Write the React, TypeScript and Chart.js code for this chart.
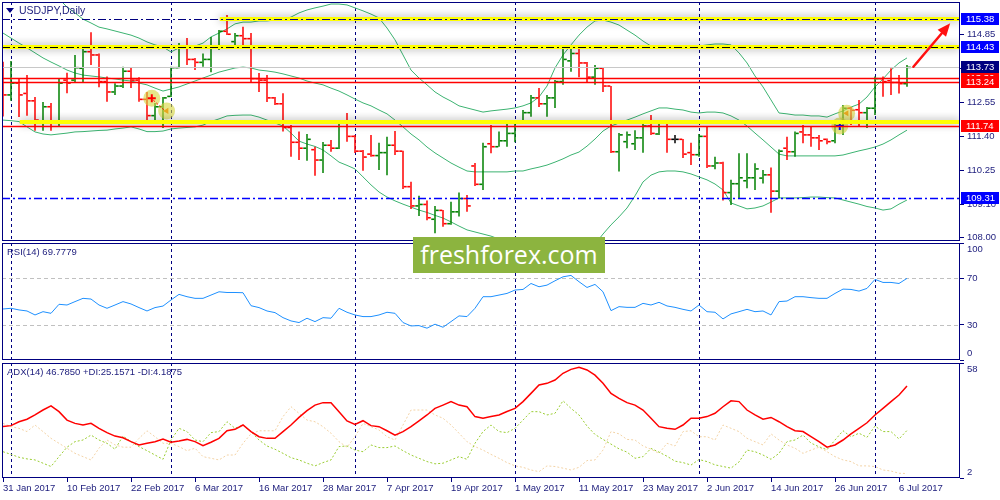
import React, { useEffect, useRef } from 'react';
import { Chart, registerables } from 'chart.js';

Chart.register(...registerables);

const FONT = "'Liberation Sans', Arial, Helvetica, sans-serif";
const NAVY = '#000080';
const TXT = '#1c1c7c';
const UP = '#008000';
const DOWN = '#ff0000';
const DOJI = '#000000';
const BB = '#3cb371';

// ---------- price bars (31 Jan 2017 .. 7 Jul 2017, one per weekday) ----------
const opens = [113.80,112.80,113.20,112.85,112.60,111.90,112.40,111.90,113.30,113.30,113.70,114.26,114.15,113.25,112.90,113.10,113.60,113.30,112.65,112.10,112.40,112.75,113.72,114.40,114.00,113.90,114.00,114.40,114.95,114.60,114.80,114.70,113.35,113.30,112.70,112.50,111.70,111.20,111.00,110.95,110.60,111.10,111.00,111.85,111.40,110.90,110.80,110.75,110.85,111.10,110.90,109.70,109.05,109.10,108.60,108.90,108.45,108.85,109.30,110.40,109.78,111.15,111.05,111.25,111.50,111.88,112.20,112.70,112.50,112.70,113.25,113.95,114.20,113.88,113.40,113.70,113.10,110.88,111.22,111.15,111.35,111.75,111.48,111.85,111.30,111.30,110.85,110.78,111.40,110.40,110.50,109.50,109.80,109.90,110.00,109.99,110.10,109.55,111.00,110.88,111.55,111.45,111.35,111.30,111.25,111.85,112.35,112.30,112.20,112.35,113.35,113.28,113.22,113.18];
const highs = [113.92,113.95,113.34,113.47,112.73,112.56,112.53,113.34,113.55,114.15,114.43,114.92,114.20,113.42,113.19,113.75,113.71,113.40,112.90,112.53,112.73,113.75,114.55,114.72,114.05,114.20,114.76,114.99,115.50,114.89,115.10,114.89,113.54,113.47,112.73,112.86,111.78,111.56,111.48,111.05,111.21,111.28,111.92,112.19,111.45,110.94,111.45,111.18,111.39,111.58,110.91,109.87,109.39,109.23,109.05,108.91,109.19,109.50,109.42,110.50,111.18,111.78,111.56,111.85,111.90,112.29,112.80,113.03,112.80,113.30,114.39,114.39,114.35,113.91,113.81,113.74,113.10,111.51,111.56,111.61,111.85,112.12,111.95,111.85,111.45,111.31,111.18,111.48,111.75,110.71,110.54,109.93,110.83,110.83,110.49,110.26,110.35,110.96,111.39,111.56,111.78,111.75,111.45,111.33,111.95,112.46,112.39,112.63,112.39,113.42,113.42,113.70,113.47,113.81];
const lows = [112.07,112.60,112.05,112.10,111.59,111.59,111.59,111.73,112.86,113.24,113.24,113.81,113.06,112.57,112.80,113.03,113.03,112.57,111.89,111.89,111.68,112.73,113.70,113.81,113.64,113.75,113.57,114.32,114.82,114.42,114.45,113.20,112.90,112.56,112.46,111.56,110.71,110.60,110.58,110.07,110.16,110.88,110.97,111.22,110.84,110.24,110.71,110.26,110.09,110.77,109.62,108.95,108.71,108.57,108.13,108.35,108.41,108.69,108.85,109.72,109.59,110.83,111.05,111.05,111.20,111.85,112.06,112.39,112.06,112.36,113.14,113.58,113.40,113.20,113.14,112.90,110.84,110.21,111.00,110.94,110.85,111.45,111.45,110.85,111.17,110.67,110.43,110.71,110.33,110.29,109.23,109.08,109.31,109.65,109.59,109.81,108.82,109.31,110.60,110.71,111.17,111.05,110.94,111.13,111.17,111.45,111.78,111.73,111.68,112.12,112.74,112.80,112.85,113.08];
const closes = [112.80,113.20,112.80,112.60,111.95,112.40,111.90,113.20,113.20,113.72,114.26,114.15,113.25,112.90,113.10,113.60,113.30,112.65,112.10,112.40,112.70,113.72,114.40,114.00,113.90,114.00,114.40,114.95,114.85,114.80,114.70,113.35,113.30,112.70,112.50,111.70,111.20,111.00,111.30,110.60,111.10,111.00,111.85,111.40,110.90,110.70,110.75,110.85,111.10,110.90,109.70,109.05,109.10,108.65,108.90,108.45,108.85,109.30,109.05,109.78,111.05,111.05,111.25,111.50,111.85,112.20,112.70,112.50,112.70,113.25,114.00,114.20,113.88,113.40,113.70,113.10,110.88,111.45,111.45,111.35,111.75,111.50,111.85,111.30,111.30,110.80,110.78,111.40,110.40,110.50,109.50,109.80,110.00,110.00,110.30,110.10,109.55,110.90,110.88,111.50,111.45,111.35,111.25,111.22,111.85,112.35,112.28,112.20,112.35,113.35,113.25,113.22,113.18,113.73];

// ---------- Bollinger bands ----------
const bbUpper = [117.83,117.59,117.36,117.12,116.89,116.65,116.34,116.04,115.77,115.57,115.36,115.23,115.09,115.03,114.96,114.89,114.82,114.72,114.59,114.49,114.42,114.25,114.39,114.42,114.45,114.55,114.76,114.89,115.03,115.20,115.26,115.26,115.30,115.30,115.33,115.33,115.43,115.57,115.67,115.74,115.80,115.87,115.87,115.84,115.74,115.64,115.53,115.40,115.06,114.66,114.15,113.64,113.37,113.14,112.90,112.73,112.59,112.43,112.36,112.29,112.22,112.26,112.29,112.32,112.36,112.43,112.53,112.73,113.10,113.71,114.15,114.49,114.82,115.09,115.30,115.33,115.26,115.16,114.99,114.82,114.62,114.45,114.39,114.39,114.39,114.39,114.42,114.45,114.49,114.52,114.52,114.49,114.22,113.88,113.44,113.07,112.63,112.19,112.16,112.12,112.12,112.09,112.09,112.05,112.16,112.26,112.39,112.49,112.73,113.07,113.34,113.64,113.88,114.05];
const bbMiddle = [114.89,114.72,114.55,114.39,114.22,114.05,113.91,113.78,113.64,113.54,113.47,113.44,113.41,113.37,113.34,113.30,113.27,113.20,113.14,113.03,112.93,113.00,113.07,113.17,113.27,113.37,113.47,113.57,113.64,113.71,113.74,113.71,113.64,113.61,113.57,113.51,113.44,113.37,113.27,113.20,113.14,113.03,112.93,112.80,112.66,112.53,112.43,112.29,112.16,111.95,111.72,111.48,111.28,111.04,110.84,110.67,110.50,110.36,110.23,110.20,110.20,110.20,110.20,110.20,110.23,110.23,110.30,110.36,110.43,110.53,110.64,110.77,110.87,111.07,111.31,111.58,111.75,111.85,111.95,112.05,112.16,112.26,112.36,112.36,112.32,112.29,112.22,112.19,112.22,112.22,112.19,112.09,111.95,111.75,111.51,111.28,111.04,110.80,110.74,110.74,110.74,110.74,110.74,110.74,110.74,110.77,110.84,110.91,110.97,111.04,111.14,111.28,111.45,111.61];
const bbLower = [111.95,111.93,111.90,111.72,111.55,111.48,111.45,111.48,111.51,111.55,111.56,111.58,111.60,111.61,111.65,111.68,111.72,111.65,111.56,111.56,111.58,111.65,111.68,111.70,111.72,111.78,111.90,111.99,112.09,112.11,112.12,112.12,112.05,111.95,111.85,111.75,111.51,111.24,111.14,111.06,110.94,110.74,110.53,110.42,110.30,110.03,109.76,109.52,109.35,109.22,109.11,109.01,108.91,108.83,108.73,108.64,108.51,108.37,108.24,108.17,108.10,108.03,107.93,107.83,107.76,107.70,107.56,107.43,107.32,107.22,107.22,107.32,107.46,107.56,107.76,108.10,108.41,108.68,108.98,109.39,109.86,110.09,110.20,110.23,110.23,110.20,110.13,110.03,109.93,109.79,109.59,109.15,109.05,108.95,108.98,109.05,109.18,109.32,109.32,109.32,109.33,109.35,109.35,109.33,109.32,109.25,109.18,109.11,109.03,108.98,108.91,108.95,109.11,109.25];

// ---------- RSI(14) ----------
const rsi = [43.6,44.2,42.8,41.9,38.5,41.3,39.9,47.6,47.0,49.9,52.7,52.1,47.0,44.2,47.0,49.9,47.9,44.8,41.9,44.8,46.1,51.3,56.1,54.1,52.7,52.7,55.5,58.3,57.7,57.7,57.5,46.4,44.8,41.9,40.5,36.2,33.4,32.0,35.7,32.8,36.2,35.7,44.2,40.8,38.5,37.1,37.1,38.5,40.8,39.9,32.0,29.1,29.4,27.2,30.6,28.0,32.8,37.7,37.1,44.2,54.1,54.1,55.5,56.9,59.8,60.3,65.4,62.6,64.0,67.7,71.1,72.3,66.9,62.0,64.6,58.3,42.2,45.6,45.0,45.0,48.4,47.0,49.3,46.2,45.0,43.3,41.9,47.0,41.3,40.8,35.1,39.4,41.3,43.3,41.3,41.9,38.5,49.9,50.4,54.1,54.1,53.3,52.7,52.7,56.9,60.6,60.3,58.9,61.2,68.9,66.3,66.3,65.4,69.78];

// ---------- ADX(14) ----------
const adx = [27.1,27.5,29.4,30.6,32.7,35.1,37.1,34.3,30.2,28.6,27.8,28.6,26.2,24.1,22.4,21.6,19.7,18.1,18.9,19.7,21.0,19.4,20.0,20.8,19.7,17.7,19.4,21.3,25.0,25.7,27.8,24.6,22.1,21.3,21.3,24.6,27.8,31.5,34.8,37.5,38.7,38.7,34.3,29.8,28.1,29.9,27.5,27.0,25.0,22.9,24.6,27.0,29.8,32.7,35.9,37.5,39.2,37.5,36.7,31.9,31.1,31.9,32.7,34.4,35.9,39.2,43.2,47.3,48.1,49.7,53.0,54.9,55.9,54.6,52.1,48.1,43.2,40.8,38.7,37.5,35.1,31.1,27.0,26.2,25.7,27.8,31.1,31.1,31.9,33.5,36.7,39.6,39.2,35.1,32.7,30.6,31.5,29.4,27.0,25.0,24.6,22.1,19.7,17.0,18.1,20.5,23.5,26.2,28.9,32.7,35.9,39.2,42.4,46.785];
const plusDI = [14.8,13.5,12.1,11.3,10.8,9.2,7.6,12.4,17.0,19.7,20.5,22.9,20.5,18.9,16.0,22.4,19.7,17.3,15.3,13.2,11.1,20.5,26.2,24.6,20.5,19.7,24.1,24.6,29.4,26.2,27.8,24.6,20.5,17.6,16.0,14.0,11.9,10.8,9.2,7.9,9.5,10.8,17.3,17.6,15.6,14.8,18.1,16.8,16.8,17.6,15.3,13.2,11.6,10.0,8.9,9.2,10.8,12.4,11.1,18.9,24.6,27.8,24.6,24.1,26.2,30.2,34.3,34.3,32.7,33.5,39.6,35.9,32.7,27.3,23.2,20.8,18.5,16.2,14.6,11.6,12.4,16.4,14.6,12.6,10.2,9.5,8.3,11.0,10.0,8.4,7.6,6.8,9.8,15.6,14.8,13.2,11.1,14.0,19.7,20.5,22.9,19.0,17.2,15.8,20.5,25.0,22.1,23.8,21.8,27.3,24.6,24.6,21.0,25.157];
const minusDI = [28.6,27.0,26.2,24.6,27.8,24.6,21.3,18.9,16.5,14.0,12.4,10.8,16.5,20.5,18.1,17.0,17.0,21.3,25.0,22.1,18.9,18.9,17.3,15.3,16.5,12.4,11.6,10.8,13.2,13.2,18.9,23.5,25.0,25.0,25.0,31.9,36.7,33.5,30.2,29.4,27.0,23.8,19.7,17.0,22.1,28.6,27.0,25.4,22.1,20.5,27.8,35.1,35.1,35.1,32.7,31.1,27.8,23.8,19.7,17.3,15.6,13.5,11.6,9.5,7.9,7.2,5.9,5.1,7.9,7.6,6.8,5.9,7.2,10.5,10.8,15.6,24.6,23.5,20.8,20.5,17.6,16.0,14.0,18.9,17.6,24.6,25.0,22.1,22.1,20.5,27.8,26.2,24.6,21.3,19.7,18.1,23.5,20.5,18.1,16.5,14.0,15.6,17.0,14.8,12.4,10.8,10.0,7.9,7.9,7.6,5.9,5.4,4.3,4.19];

// ---------- axes / annotations ----------
const xTickIdx = [0, 8, 16, 24, 32, 40, 48, 56, 64, 72, 80, 88, 96, 104, 112];
const xTickLabels = ['31 Jan 2017', '10 Feb 2017', '22 Feb 2017', '6 Mar 2017', '16 Mar 2017', '28 Mar 2017', '7 Apr 2017', '19 Apr 2017', '1 May 2017', '11 May 2017', '23 May 2017', '2 Jun 2017', '14 Jun 2017', '26 Jun 2017', '6 Jul 2017'];
const separatorIdx = [1, 21, 44, 64, 87, 109];
const priceTicks = [108.0, 109.1, 110.25, 111.4, 112.55, 113.7, 114.85];
const rsiTicks = [0, 30, 70, 100];
const rsiLevels = [30, 70];
const adxTicks = [2, 58];

const yellowLevels = [115.38, 114.43, 111.87];
const yellowFrom = [27.1, -1, 2.1];
const dashDotLevels = [115.38, 114.43, 109.31];
const redLevels = [113.36, 113.24, 111.74];
const bidLevel = 113.73;
const boxPrices = [113.36, 113.24, 113.73, 115.38, 114.43, 111.74, 109.31];
const arrowFrom = [113.8, 113.75];
const arrowTo = [118.4, 115.22];
const circleX = [18.6, 20.45, 104.6, 105.45];
const circleY = [112.69, 112.26, 111.75, 112.18];
const signalLinkX = [18.8, 20.1];
const signalLinkY = [112.62, 112.3];

const X_MIN = -0.125;
const X_MAX = 119.625;
const idx = closes.map((_, i) => i);
const barColor = idx.map((i) => (closes[i] > opens[i] ? UP : closes[i] < opens[i] ? DOWN : DOJI));

function drawSeparators(chart: any) {
  const { ctx, chartArea: a, scales } = chart;
  ctx.save();
  ctx.strokeStyle = NAVY;
  ctx.lineWidth = 1;
  ctx.setLineDash([3, 3]);
  for (const i of separatorIdx) {
    const px = Math.round(scales.x.getPixelForValue(i)) + 0.5;
    ctx.beginPath();
    ctx.moveTo(px, a.top);
    ctx.lineTo(px, a.bottom);
    ctx.stroke();
  }
  ctx.restore();
}

function drawFrame(chart: any) {
  const { ctx, chartArea: a } = chart;
  ctx.save();
  ctx.strokeStyle = NAVY;
  ctx.lineWidth = 1;
  ctx.setLineDash([]);
  ctx.strokeRect(Math.round(a.left) + 0.5, Math.round(a.top) + 0.5, Math.round(a.width) - 1, Math.round(a.height) - 1);
  ctx.restore();
}

function edgeShift(shifts: Record<string, number>) {
  return {
    id: 'edgeShift',
    beforeDraw(chart: any) {
      const items = chart.scales.y.getLabelItems();
      for (const it of items) {
        if (it.__shifted) continue;
        it.__shifted = true;
        const d = shifts[String(it.label)];
        if (d) it.options.translation = [it.options.translation[0], it.options.translation[1] + d];
      }
    },
  };
}

function yAxis(min: number, max: number, ticks: number[], fmt: (v: number) => string) {
  return {
    position: 'right',
    min,
    max,
    afterFit(s: any) {
      s.width = 40;
      s.paddingTop = 0;
      s.paddingBottom = 0;
    },
    afterBuildTicks(s: any) {
      s.ticks = ticks.map((v) => ({ value: v }));
    },
    ticks: { callback: (v: any) => fmt(Number(v)), color: TXT, font: { family: FONT, size: 9.5 }, padding: 3, autoSkip: false },
    grid: { drawOnChartArea: false, drawTicks: true, tickLength: 4, color: NAVY, lineWidth: 1 },
    border: { display: false },
  };
}

const hiddenX = {
  type: 'linear',
  min: X_MIN,
  max: X_MAX,
  display: false,
  offset: false,
  afterFit(s: any) {
    s.paddingLeft = 0;
    s.paddingRight = 0;
  },
};

const baseOpts = {
  responsive: false,
  animation: false,
  events: [],
  plugins: { legend: { display: false }, tooltip: { enabled: false } },
};

function mainConfig(): any {
  const decor = {
    id: 'mainDecor',
    beforeDatasetsDraw(chart: any) {
      drawSeparators(chart);
    },
    afterDatasetsDraw(chart: any) {
      const { ctx, chartArea: a, scales } = chart;
      const x = scales.x;
      const y = scales.y;
      ctx.save();
      ctx.beginPath();
      ctx.rect(a.left, a.top, a.width, a.height);
      ctx.clip();
      yellowLevels.forEach((v, k) => {
        const x0 = Math.max(a.left, x.getPixelForValue(yellowFrom[k]));
        const py = Math.round(y.getPixelForValue(v));
        ctx.save();
        ctx.shadowColor = 'rgba(0,0,0,0.4)';
        ctx.shadowBlur = 9;
        ctx.strokeStyle = '#ffff00';
        ctx.lineWidth = 4;
        ctx.beginPath();
        ctx.moveTo(x0, py);
        ctx.lineTo(a.right, py);
        ctx.stroke();
        ctx.restore();
      });
      const ddColors = [NAVY, '#000000', '#0000ff'];
      const ddWidths = [1, 1.2, 1.5];
      dashDotLevels.forEach((v, k) => {
        const py = Math.round(y.getPixelForValue(v)) + 0.5;
        ctx.save();
        ctx.strokeStyle = ddColors[k];
        ctx.lineWidth = ddWidths[k];
        ctx.setLineDash([8, 3, 2, 3]);
        ctx.beginPath();
        ctx.moveTo(a.left, py);
        ctx.lineTo(a.right, py);
        ctx.stroke();
        ctx.restore();
      });
      {
        const py = Math.round(y.getPixelForValue(bidLevel)) + 0.5;
        ctx.strokeStyle = '#c8c8c8';
        ctx.lineWidth = 1;
        ctx.beginPath();
        ctx.moveTo(a.left, py);
        ctx.lineTo(a.right, py);
        ctx.stroke();
      }
      redLevels.forEach((v) => {
        const py = Math.round(y.getPixelForValue(v)) + 0.5;
        ctx.strokeStyle = '#ff0000';
        ctx.lineWidth = 1.5;
        ctx.beginPath();
        ctx.moveTo(a.left, py);
        ctx.lineTo(a.right, py);
        ctx.stroke();
      });
      const x1 = x.getPixelForValue(arrowFrom[0]);
      const y1 = y.getPixelForValue(arrowFrom[1]);
      const x2 = x.getPixelForValue(arrowTo[0]);
      const y2 = y.getPixelForValue(arrowTo[1]);
      const ang = Math.atan2(y2 - y1, x2 - x1);
      const hl = 13;
      const hw = 5.5;
      const bx = x2 - Math.cos(ang) * hl;
      const by = y2 - Math.sin(ang) * hl;
      ctx.strokeStyle = '#ff1010';
      ctx.fillStyle = '#ff1010';
      ctx.lineWidth = 2.5;
      ctx.lineCap = 'round';
      ctx.beginPath();
      ctx.moveTo(x1, y1);
      ctx.lineTo(bx, by);
      ctx.stroke();
      ctx.beginPath();
      ctx.moveTo(x2, y2);
      ctx.lineTo(bx + Math.sin(ang) * hw, by - Math.cos(ang) * hw);
      ctx.lineTo(bx - Math.sin(ang) * hw, by + Math.cos(ang) * hw);
      ctx.closePath();
      ctx.fill();
      ctx.restore();
      drawFrame(chart);
    },
    afterDraw(chart: any) {
      const { ctx, chartArea: a, scales } = chart;
      const y = scales.y;
      const fills = ['#ff0000', '#ff0000', '#000080', '#0000ff', '#0000ff', '#ff0000', '#0000ff'];
      ctx.save();
      ctx.font = `9.5px ${FONT}`;
      ctx.textBaseline = 'middle';
      ctx.textAlign = 'left';
      boxPrices.forEach((v, k) => {
        const py = Math.round(y.getPixelForValue(v));
        ctx.fillStyle = fills[k];
        ctx.fillRect(a.right + 1, py - 6, 38, 12);
        ctx.fillStyle = '#ffffff';
        ctx.fillText(v.toFixed(2), a.right + 6, py + 0.5);
      });
      ctx.restore();
    },
  };

  const bbLine = (d: number[]) => ({
    type: 'line',
    data: idx.map((i) => ({ x: i, y: d[i] })),
    borderColor: BB,
    borderWidth: 1,
    pointRadius: 0,
    fill: false,
    order: 6,
  });

  return {
    type: 'line',
    data: {
      datasets: [
        {
          type: 'line',
          data: [0, 2].map((k) => ({ x: circleX[k], y: circleY[k] })),
          showLine: false,
          pointStyle: 'cross',
          pointRadius: 4,
          pointBorderWidth: 2,
          pointBorderColor: ['#ff0000', '#0000ff'],
          order: 0,
        },
        {
          type: 'line',
          data: [1, 3].map((k) => ({ x: circleX[k], y: circleY[k] })),
          showLine: false,
          pointStyle: 'triangle',
          pointRotation: -90,
          pointRadius: 3.5,
          pointBorderWidth: 0,
          pointBackgroundColor: '#e8a820',
          order: 0,
        },
        {
          type: 'line',
          data: signalLinkX.map((v, k) => ({ x: v, y: signalLinkY[k] })),
          borderColor: '#ff0000',
          borderWidth: 1,
          borderDash: [2, 2],
          pointRadius: 0,
          order: 0,
        },
        {
          type: 'line',
          data: circleX.map((v, k) => ({ x: v, y: circleY[k] })),
          showLine: false,
          pointStyle: 'circle',
          pointRadius: 8.5,
          pointBorderWidth: 0,
          pointBackgroundColor: 'rgba(214,214,64,0.62)',
          order: 1,
        },
        {
          type: 'line',
          data: idx.map((i) => ({ x: i - 0.28, y: opens[i] })),
          showLine: false,
          pointStyle: 'line',
          pointRadius: 1.5,
          pointBorderWidth: 1.6,
          pointBorderColor: barColor,
          order: 2,
        },
        {
          type: 'line',
          data: idx.map((i) => ({ x: i + 0.28, y: closes[i] })),
          showLine: false,
          pointStyle: 'line',
          pointRadius: 1.5,
          pointBorderWidth: 1.6,
          pointBorderColor: barColor,
          order: 2,
        },
        {
          type: 'bar',
          data: idx.map((i) => ({ x: i, y: [lows[i], highs[i]] })),
          backgroundColor: barColor,
          borderWidth: 0,
          barThickness: 1.5,
          inflateAmount: 0,
          order: 3,
        },
        bbLine(bbUpper),
        bbLine(bbMiddle),
        bbLine(bbLower),
      ],
    },
    options: {
      ...baseOpts,
      layout: { autoPadding: false, padding: { left: 2, right: 0, top: 2, bottom: 3 } },
      scales: {
        x: hiddenX,
        y: yAxis(107.865, 115.939, priceTicks, (v) => v.toFixed(2)),
      },
    },
    plugins: [decor],
  };
}

function rsiConfig(): any {
  const decor = {
    id: 'rsiDecor',
    beforeDatasetsDraw(chart: any) {
      const { ctx, chartArea: a, scales } = chart;
      drawSeparators(chart);
      ctx.save();
      ctx.strokeStyle = '#c0c0c0';
      ctx.lineWidth = 1;
      ctx.setLineDash([4, 3]);
      rsiLevels.forEach((v) => {
        const py = Math.round(scales.y.getPixelForValue(v)) + 0.5;
        ctx.beginPath();
        ctx.moveTo(a.left, py);
        ctx.lineTo(a.right, py);
        ctx.stroke();
      });
      ctx.restore();
    },
    afterDatasetsDraw(chart: any) {
      drawFrame(chart);
    },
  };
  return {
    type: 'line',
    data: {
      datasets: [
        {
          data: idx.map((i) => ({ x: i, y: rsi[i] })),
          borderColor: '#1e90ff',
          borderWidth: 1,
          pointRadius: 0,
          fill: false,
        },
      ],
    },
    options: {
      ...baseOpts,
      layout: { autoPadding: false, padding: { left: 2, right: 0, top: 1, bottom: 2 } },
      scales: {
        x: hiddenX,
        y: yAxis(0, 100, rsiTicks, (v) => String(v)),
      },
    },
    plugins: [decor, edgeShift({ '100': 6, '0': -7 })],
  };
}

function adxConfig(): any {
  const decor = {
    id: 'adxDecor',
    beforeDatasetsDraw(chart: any) {
      drawSeparators(chart);
    },
    afterDatasetsDraw(chart: any) {
      drawFrame(chart);
    },
  };
  const line = (d: number[], color: string, width: number, dash: number[], order: number) => ({
    data: idx.map((i) => ({ x: i, y: d[i] })),
    borderColor: color,
    borderWidth: width,
    borderDash: dash,
    pointRadius: 0,
    fill: false,
    order,
  });
  return {
    type: 'line',
    data: {
      datasets: [
        line(adx, '#ff0000', 1.5, [], 0),
        line(plusDI, '#9acd32', 1, [2, 2], 1),
        line(minusDI, '#f3d3a6', 1, [2, 2], 2),
      ],
    },
    options: {
      ...baseOpts,
      layout: { autoPadding: false, padding: { left: 2, right: 0, top: 1, bottom: 0 } },
      scales: {
        x: {
          type: 'linear',
          min: X_MIN,
          max: X_MAX,
          offset: false,
          position: 'bottom',
          afterFit(s: any) {
            s.height = 22;
            s.paddingLeft = 0;
            s.paddingRight = 0;
          },
          afterBuildTicks(s: any) {
            s.ticks = xTickIdx.map((v) => ({ value: v }));
          },
          ticks: {
            callback: (_v: any, i: number) => xTickLabels[i],
            align: 'start',
            maxRotation: 0,
            minRotation: 0,
            autoSkip: false,
            padding: 1,
            color: TXT,
            font: { family: FONT, size: 9.5 },
          },
          grid: { drawOnChartArea: false, drawTicks: true, tickLength: 4, color: NAVY, offset: false },
          border: { display: false },
        },
        y: yAxis(2, 58, adxTicks, (v) => String(v)),
      },
    },
    plugins: [decor, edgeShift({ '58': 6, '2': -6 })],
  };
}

export default function App() {
  const mainRef = useRef<HTMLCanvasElement>(null);
  const rsiRef = useRef<HTMLCanvasElement>(null);
  const adxRef = useRef<HTMLCanvasElement>(null);

  useEffect(() => {
    const charts: Chart[] = [];
    if (mainRef.current) charts.push(new Chart(mainRef.current, mainConfig()));
    if (rsiRef.current) charts.push(new Chart(rsiRef.current, rsiConfig()));
    if (adxRef.current) charts.push(new Chart(adxRef.current, adxConfig()));
    return () => charts.forEach((c) => c.destroy());
  }, []);

  const label: React.CSSProperties = {
    position: 'absolute',
    fontFamily: FONT,
    fontSize: 9.5,
    lineHeight: '13px',
    color: TXT,
    whiteSpace: 'nowrap',
  };

  return (
    <div style={{ position: 'absolute', left: 0, top: 0, width: 1000, height: 500, background: '#ffffff', overflow: 'hidden' }}>
      <canvas ref={mainRef} width={1000} height={244} style={{ position: 'absolute', left: 0, top: 0, width: 1000, height: 244 }} />
      <canvas ref={rsiRef} width={1000} height={120} style={{ position: 'absolute', left: 0, top: 242, width: 1000, height: 120 }} />
      <canvas ref={adxRef} width={1000} height={138} style={{ position: 'absolute', left: 0, top: 362, width: 1000, height: 138 }} />
      <div
        style={{
          position: 'absolute',
          left: 6,
          top: 8,
          width: 0,
          height: 0,
          borderLeft: '4px solid transparent',
          borderRight: '4px solid transparent',
          borderTop: `5px solid ${NAVY}`,
        }}
      />
      <div style={{ ...label, left: 19, top: 3, fontSize: 10.5, lineHeight: '14px' }}>USDJPY,Daily</div>
      <div style={{ ...label, left: 7, top: 245 }}>RSI(14) 69.7779</div>
      <div style={{ ...label, left: 7, top: 365 }}>ADX(14) 46.7850 +DI:25.1571 -DI:4.1875</div>
      <div
        style={{
          position: 'absolute',
          left: 413,
          top: 237,
          width: 192,
          height: 36,
          background: '#8cb43f',
          color: '#ffffff',
          fontFamily: "'Open Sans', 'Noto Sans', sans-serif",
          fontSize: 25,
          lineHeight: '35px',
          textAlign: 'center',
        }}
      >
        freshforex.com
      </div>
    </div>
  );
}
